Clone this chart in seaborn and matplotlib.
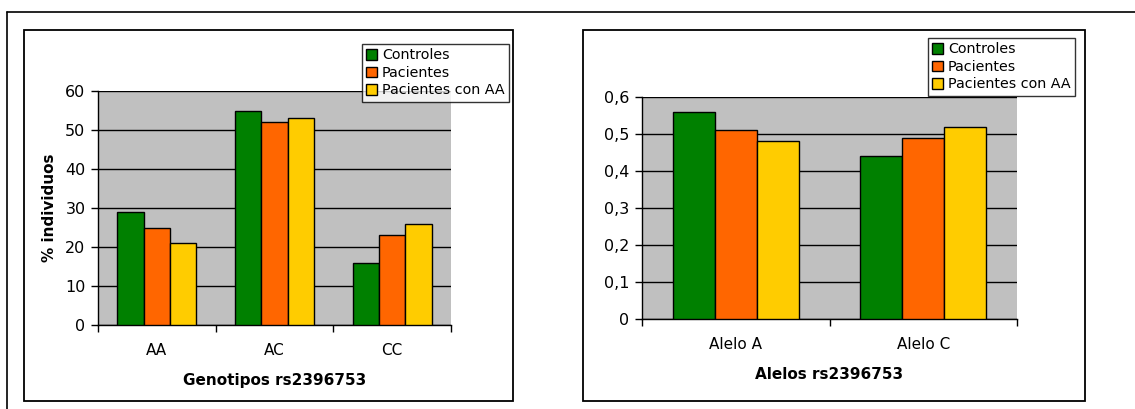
import matplotlib
matplotlib.use("Agg")
import matplotlib.pyplot as plt
from matplotlib.patches import Rectangle, Patch
from matplotlib.lines import Line2D
from matplotlib.ticker import FuncFormatter, FixedLocator
import seaborn as sns
import pandas as pd

# Data
series = ["Controles", "Pacientes", "Pacientes con AA"]
genotipos = ["AA", "AC", "CC"]
geno_controles = [29, 55, 16]
geno_pacientes = [25, 52, 23]
geno_pacientes_aa = [21, 53, 26]

alelos = ["Alelo A", "Alelo C"]
alelo_controles = [0.56, 0.44]
alelo_pacientes = [0.51, 0.49]
alelo_pacientes_aa = [0.48, 0.52]

colors = ["#008000", "#FF6600", "#FFCC00"]

sns.set_theme(style="white")
plt.rcParams["font.family"] = ["DejaVu Sans"]
plt.rcParams["text.color"] = "black"
plt.rcParams["axes.labelcolor"] = "black"
plt.rcParams["xtick.color"] = "black"
plt.rcParams["ytick.color"] = "black"

W, H = 1135, 409
fig = plt.figure(figsize=(W / 100, H / 100), dpi=100)
fig.patch.set_facecolor("white")


def px(x0, y0, x1, y1):
    return [x0 / W, 1 - y1 / H, (x1 - x0) / W, (y1 - y0) / H]


def long_df(cats, vals):
    rows = []
    for s, v in zip(series, vals):
        for c, y in zip(cats, v):
            rows.append({"cat": c, "serie": s, "val": y})
    return pd.DataFrame(rows)


# Outer frame (top and left edges) and chart boxes
fig.add_artist(Line2D([7 / W, 1.0], [1 - 12 / H, 1 - 12 / H], color="black", lw=1.2,
                      transform=fig.transFigure))
fig.add_artist(Line2D([7 / W, 7 / W], [1 - 12 / H, 0], color="black", lw=1.2,
                      transform=fig.transFigure))
for box in [(24, 30, 513, 401), (583, 30, 1085, 401)]:
    x0, y0, x1, y1 = box
    fig.add_artist(Rectangle((x0 / W, 1 - y1 / H), (x1 - x0) / W, (y1 - y0) / H,
                             transform=fig.transFigure, fill=False,
                             edgecolor="black", lw=1.3))


def draw(ax, cats, vals, ymax, step, fmt, xlabel, ylabel):
    df = long_df(cats, vals)
    sns.barplot(data=df, x="cat", y="val", hue="serie", hue_order=series,
                palette=colors, width=0.67, gap=0, edgecolor="black",
                linewidth=1.0, saturation=1, ax=ax, legend=False, zorder=3)
    ax.set_facecolor("#C0C0C0")
    ax.set_xlim(-0.5, len(cats) - 0.5)
    ax.set_ylim(0, ymax)
    ticks = [i * step for i in range(int(round(ymax / step)) + 1)]
    ax.set_yticks(ticks)
    ax.yaxis.set_major_formatter(FuncFormatter(fmt))
    ax.yaxis.grid(True, color="black", lw=1.0, zorder=1)
    ax.set_axisbelow(True)
    for side in ["top", "right"]:
        ax.spines[side].set_visible(False)
    for side in ["left", "bottom"]:
        ax.spines[side].set_color("black")
        ax.spines[side].set_linewidth(1.0)
    ax.tick_params(axis="y", which="major", direction="out", length=5, width=1,
                   color="black", labelcolor="black", labelsize=11.5, pad=4, left=True)
    ax.tick_params(axis="x", which="major", length=0, labelsize=11, pad=13,
                   labelcolor="black")
    ax.xaxis.set_minor_locator(FixedLocator([i - 0.5 for i in range(len(cats) + 1)]))
    ax.tick_params(axis="x", which="minor", direction="out", length=5, width=1,
                   color="black", bottom=True)
    ax.set_xlabel(xlabel, fontsize=11, fontweight="bold", labelpad=11, color="black")
    ax.set_ylabel(ylabel, fontsize=11, fontweight="bold", labelpad=6, color="black")


ax1 = fig.add_axes(px(98, 91, 451, 325))
draw(ax1, genotipos, [geno_controles, geno_pacientes, geno_pacientes_aa], 60, 10,
     lambda v, p: f"{v:.0f}", "Genotipos rs2396753", "% individuos")

ax2 = fig.add_axes(px(642, 97, 1017, 319))
draw(ax2, alelos, [alelo_controles, alelo_pacientes, alelo_pacientes_aa], 0.6, 0.1,
     lambda v, p: "0" if abs(v) < 1e-9 else f"{v:.1f}".replace(".", ","),
     "Alelos rs2396753", "")

handles = [Patch(facecolor=c, edgecolor="black", lw=1.0) for c in colors]
for (lx, ly) in [(362, 44), (928, 38)]:
    leg = fig.legend(handles, series, loc="upper left",
                     bbox_to_anchor=(lx / W, 1 - ly / H), fontsize=10.3,
                     frameon=True, fancybox=False, borderpad=0.3,
                     handlelength=0.75, handleheight=0.75, handletextpad=0.35,
                     labelspacing=0.25, borderaxespad=0, labelcolor="black")
    leg.get_frame().set_edgecolor("black")
    leg.get_frame().set_linewidth(1.0)

fig.savefig("out.png", dpi=100, facecolor="white")
